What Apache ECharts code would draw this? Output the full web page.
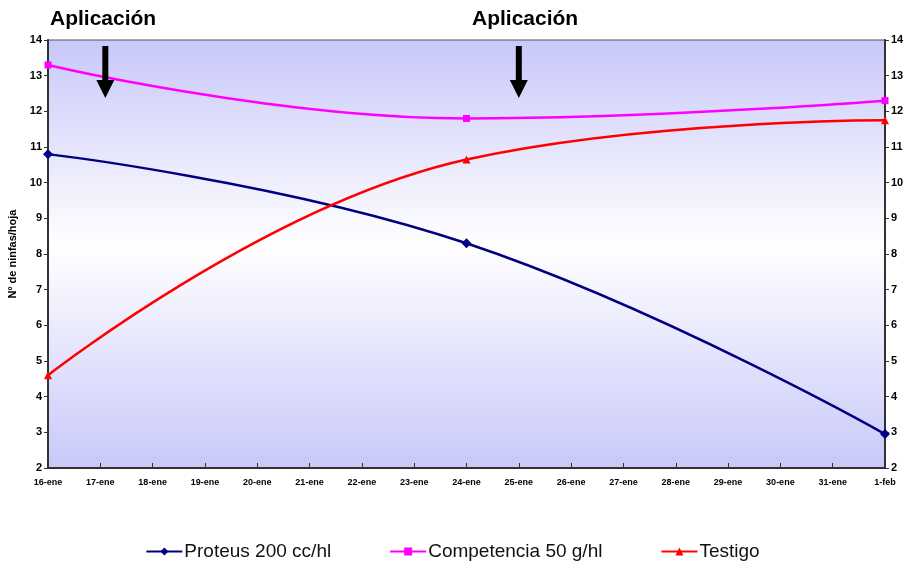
<!DOCTYPE html>
<html>
<head>
<meta charset="utf-8">
<script src="https://cdn.jsdelivr.net/npm/echarts@6/dist/echarts.min.js"></script>
<style>
  html, body { margin: 0; padding: 0; background: #fff; }
  #main { width: 905px; height: 570px; }
</style>
</head>
<body>
<div id="main"></div>
<script>
// fechas del eje x (16-ene .. 1-feb)
var dias = ['16-ene', '17-ene', '18-ene', '19-ene', '20-ene', '21-ene', '22-ene', '23-ene', '24-ene',
  '25-ene', '26-ene', '27-ene', '28-ene', '29-ene', '30-ene', '31-ene', '1-feb'];
var yTicks = [2, 3, 4, 5, 6, 7, 8, 9, 10, 11, 12, 13, 14];

// solo hay lecturas el 16-ene, 24-ene y 1-feb
var proteus     = [10.8, null, null, null, null, null, null, null, 8.3, null, null, null, null, null, null, null, 2.95];
var competencia = [13.3, null, null, null, null, null, null, null, 11.8, null, null, null, null, null, null, null, 12.3];
var testigo     = [4.6, null, null, null, null, null, null, null, 10.65, null, null, null, null, null, null, null, 11.75];

// fechas de aplicación (flechas)
var aplicaciones = ['17-ene', '25-ene'];

var chart = echarts.init(document.getElementById('main'));

var flecha = 'path://M6,0 L12,0 L12,34 L18,34 L9,52 L0,34 L6,34 Z';

function serie(name, data, color, symbol, size) {
  return {
    name: name,
    type: 'line',
    data: data,
    connectNulls: true,
    smooth: 0.45,
    symbol: symbol,
    symbolSize: size,
    showAllSymbol: true,
    lineStyle: { color: color, width: 2.5 },
    itemStyle: { color: color },
    z: 3
  };
}

var yAxisBase = {
  type: 'value',
  min: yTicks[0],
  max: yTicks[yTicks.length - 1],
  interval: 1,
  axisLine: { show: true, lineStyle: { color: '#333', width: 2 } },
  axisTick: { show: true, length: 4, lineStyle: { color: '#333' } },
  splitLine: { show: false },
  axisLabel: { color: '#000', fontSize: 11, fontWeight: 'bold', fontFamily: 'Liberation Sans', margin: 6 }
};

var series = [
  serie('Proteus 200 cc/hl', proteus, '#000080', 'diamond', 10),
  serie('Competencia 50 g/hl', competencia, '#ff00ff', 'rect', 7),
  serie('Testigo', testigo, '#ff0000', 'triangle', 8)
];
// flechas de aplicación
series[0].markPoint = {
  symbol: flecha,
  symbolSize: [18, 52],
  itemStyle: { color: '#000' },
  label: { show: false },
  data: [
    { coord: [aplicaciones[0], 13.1], symbolOffset: [5, 0] },
    { coord: [aplicaciones[1], 13.1] }
  ]
};

chart.setOption({
  backgroundColor: '#fff',
  animation: false,
  grid: {
    left: 48, right: 20, top: 40, bottom: 102,
    outerBoundsMode: 'none',
    show: true,
    borderColor: '#555',
    borderWidth: 1,
    backgroundColor: new echarts.graphic.LinearGradient(0, 0, 0, 1, [
      { offset: 0, color: '#c8c8fa' },
      { offset: 0.48, color: '#ffffff' },
      { offset: 1, color: '#c8c8fa' }
    ])
  },
  legend: {
    bottom: 4,
    left: 'center',
    itemWidth: 36,
    itemHeight: 10,
    itemGap: 58,
    textStyle: { fontSize: 19, color: '#111', fontFamily: 'Liberation Sans', padding: [0, 0, 0, -3] },
    data: ['Proteus 200 cc/hl', 'Competencia 50 g/hl', 'Testigo']
  },
  xAxis: {
    type: 'category',
    data: dias,
    boundaryGap: false,
    axisLine: { lineStyle: { color: '#333', width: 2 } },
    axisTick: { show: true, inside: true, length: 5, lineStyle: { color: '#333' } },
    axisLabel: { color: '#000', fontSize: 9, fontWeight: 'bold', fontFamily: 'Liberation Sans', margin: 10, interval: 0 }
  },
  yAxis: [
    Object.assign({}, yAxisBase, {
      position: 'left',
      name: 'Nº de ninfas/hoja',
      nameLocation: 'middle',
      nameGap: 21,
      nameTextStyle: { fontSize: 11, fontWeight: 'bold', color: '#000', fontFamily: 'Liberation Sans' }
    }),
    Object.assign({}, yAxisBase, { position: 'right' })
  ],
  graphic: [
    { type: 'text', left: 50, top: 9, style: { text: 'Aplicación', fontSize: 21, fontWeight: 'bold', fontFamily: 'Liberation Sans', fill: '#000' } },
    { type: 'text', left: 472, top: 9, style: { text: 'Aplicación', fontSize: 21, fontWeight: 'bold', fontFamily: 'Liberation Sans', fill: '#000' } }
  ],
  series: series
});
</script>
</body>
</html>
